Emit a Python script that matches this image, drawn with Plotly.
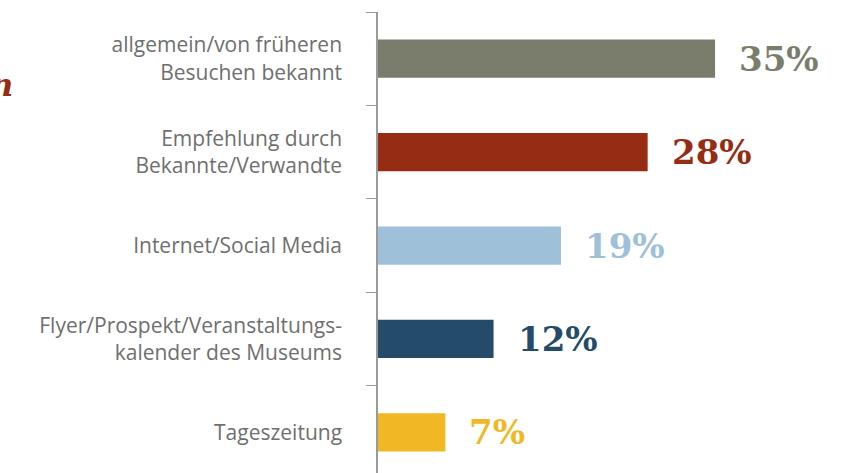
import plotly.graph_objects as go

categories = [
    "allgemein/von früheren<br>Besuchen bekannt",
    "Empfehlung durch<br>Bekannte/Verwandte",
    "Internet/Social Media",
    "Flyer/Prospekt/Veranstaltungs-<br>kalender des Museums",
    "Tageszeitung",
]
values = [35, 28, 19, 12, 7]
value_labels = ["35%", "28%", "19%", "12%", "7%"]
bar_colors = ["#7b7d6c", "#962c14", "#9ec0d9", "#254b6b", "#f0b824"]

fig = go.Figure()
fig.add_trace(go.Bar(
    x=values, y=categories, orientation="h",
    marker=dict(color=bar_colors, line=dict(width=0)),
    width=0.41, hoverinfo="skip",
))

for v, c, lab, col in zip(values, categories, value_labels, bar_colors):
    fig.add_annotation(
        x=v, y=c, xref="x", yref="y", text=lab, showarrow=False,
        xanchor="left", yanchor="middle", xshift=22,
        font=dict(family="DejaVu Serif", size=34, color=col, weight="bold"),
    )

# cropped title fragment at the left edge (as in the reference)
fig.add_annotation(
    x=-0.803, y=0.842, xref="paper", yref="paper", text="<i>n</i>",
    showarrow=False, xanchor="center", yanchor="middle",
    font=dict(family="DejaVu Serif", size=32, color="#962c14", weight="bold"),
)

fig.update_layout(
    width=847, height=473,
    margin=dict(l=378, r=0, t=12, b=0),
    paper_bgcolor="white", plot_bgcolor="white",
    showlegend=False,
    font=dict(family="Open Sans", size=21, color="#6f6f6f"),
)
fig.update_xaxes(
    range=[0, 48.7], visible=False, showgrid=False, zeroline=False,
)
fig.update_yaxes(
    type="category", range=[4.435, -0.5], automargin=False,
    showline=True, linecolor="#9a9a9a", linewidth=1.5,
    ticks="outside", tickson="boundaries", ticklen=10, tickwidth=1.2,
    tickcolor="#9a9a9a", showgrid=False, zeroline=False,
    ticklabelstandoff=30,
    tickfont=dict(family="Open Sans", size=21, color="#6f6f6f"),
)

fig.write_html("out.html", config={"displayModeBar": False},
               post_script="document.body.style.margin='0';")
